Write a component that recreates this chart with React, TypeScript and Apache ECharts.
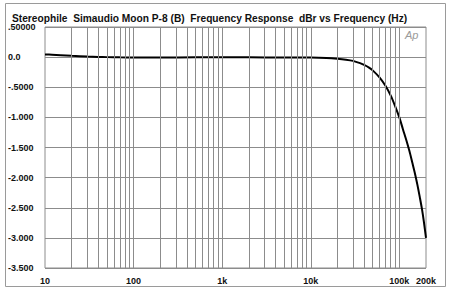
import React, { useEffect, useRef } from "react";
import * as echarts from "echarts";

const titleText = "Stereophile  Simaudio Moon P-8 (B)  Frequency Response  dBr vs Frequency (Hz)";

const freqHz = [
  10, 12, 15, 20, 30, 40, 50, 70, 100, 200, 500, 1000, 2000, 5000, 10000, 15000,
  20000, 25000, 30000, 36000, 40000, 45000, 50000, 60000, 70000, 80000, 90000,
  100000, 110000, 120000, 130000, 140000, 150000, 160000, 170000, 180000, 190000, 200000,
];
const levelDbr = [
  0.045, 0.04, 0.032, 0.022, 0.01, 0.004, 0.0, -0.004, -0.005, -0.005, -0.004, -0.004, -0.004, -0.005, -0.008, -0.015,
  -0.027, -0.042, -0.062, -0.1, -0.13, -0.17, -0.22, -0.34, -0.48, -0.64, -0.82,
  -1.0, -1.2, -1.38, -1.56, -1.75, -1.93, -2.12, -2.32, -2.52, -2.75, -3.0,
];

const yTickValues = [0.5, 0, -0.5, -1, -1.5, -2, -2.5, -3, -3.5];
const yTickLabels = [".50000", "0.0", "-.5000", "-1.000", "-1.500", "-2.000", "-2.500", "-3.000", "-3.500"];

const xTickValues = [10, 100, 1000, 10000, 100000, 200000];
const xTickLabels = ["10", "100", "1k", "10k", "100k", "200k"];

const gridFreqs = [
  20, 30, 40, 50, 60, 70, 80, 90, 100,
  200, 300, 400, 500, 600, 700, 800, 900, 1000,
  2000, 3000, 4000, 5000, 6000, 7000, 8000, 9000, 10000,
  20000, 30000, 40000, 50000, 60000, 70000, 80000, 90000, 100000,
];

export default function App() {
  const ref = useRef<HTMLDivElement>(null);
  useEffect(() => {
    if (!ref.current) return;
    const chart = echarts.init(ref.current, null, { renderer: "svg" });
    const labelFont = {
      fontFamily: "Liberation Sans, Arial, sans-serif",
      fontWeight: "bold" as const,
      fontSize: 9,
      color: "#111",
    };
    chart.setOption({
      animation: false,
      backgroundColor: "#fff",
      title: {
        text: titleText,
        left: 7,
        top: 8,
        textStyle: { ...labelFont, fontSize: 10.2 },
      },
      grid: {
        left: 45,
        right: 24,
        top: 27,
        bottom: 28,
        show: true,
        borderColor: "#8c8c8c",
        borderWidth: 1,
        backgroundColor: "transparent",
      },
      xAxis: {
        type: "log",
        logBase: 10,
        min: 10,
        max: 200000,
        axisLine: { show: false },
        axisTick: { show: false },
        splitLine: { show: false },
        axisLabel: {
          ...labelFont,
          margin: 8,
          showMinLabel: true,
          showMaxLabel: true,
          formatter: (v: number) => {
            const i = xTickValues.findIndex((t) => Math.abs(t - v) / t < 1e-6);
            return i >= 0 ? xTickLabels[i] : "";
          },
        },
      },
      yAxis: {
        type: "value",
        min: -3.5,
        max: 0.5,
        interval: 0.5,
        axisLine: { show: false },
        axisTick: { show: false },
        splitLine: { show: true, lineStyle: { color: "#8c8c8c", width: 1 } },
        axisLabel: {
          ...labelFont,
          align: "left",
          margin: 37,
          formatter: (v: number) => {
            const i = yTickValues.findIndex((t) => Math.abs(t - v) < 1e-6);
            return i >= 0 ? yTickLabels[i] : "";
          },
        },
      },
      graphic: [
        {
          type: "rect",
          shape: { x: 5.5, y: 3.5, width: 440, height: 283 },
          style: { fill: "none", stroke: "#9a9a9a", lineWidth: 1 },
          silent: true,
        },
        {
          type: "text",
          x: 405,
          y: 29,
          style: {
            text: "Ap",
            fill: "#9a9a9a",
            font: "italic 11px 'Liberation Sans', Arial, sans-serif",
          },
          silent: true,
        },
      ],
      series: [
        {
          type: "line",
          data: [],
          z: 1,
          silent: true,
          markLine: {
            silent: true,
            symbol: ["none", "none"],
            label: { show: false },
            lineStyle: { color: "#8c8c8c", type: "solid", width: 1 },
            emphasis: { disabled: true },
            data: gridFreqs.map((f) => ({ xAxis: f })),
          },
        },
        {
          type: "line",
          z: 3,
          data: freqHz.map((f, i) => [f, levelDbr[i]]),
          showSymbol: false,
          smooth: 0.3,
          lineStyle: { color: "#000", width: 2 },
        },
      ],
    });
    return () => chart.dispose();
  }, []);
  return (
    <div
      ref={ref}
      style={{ position: "fixed", left: 0, top: 0, width: 450, height: 296, background: "#fff" }}
    />
  );
}
